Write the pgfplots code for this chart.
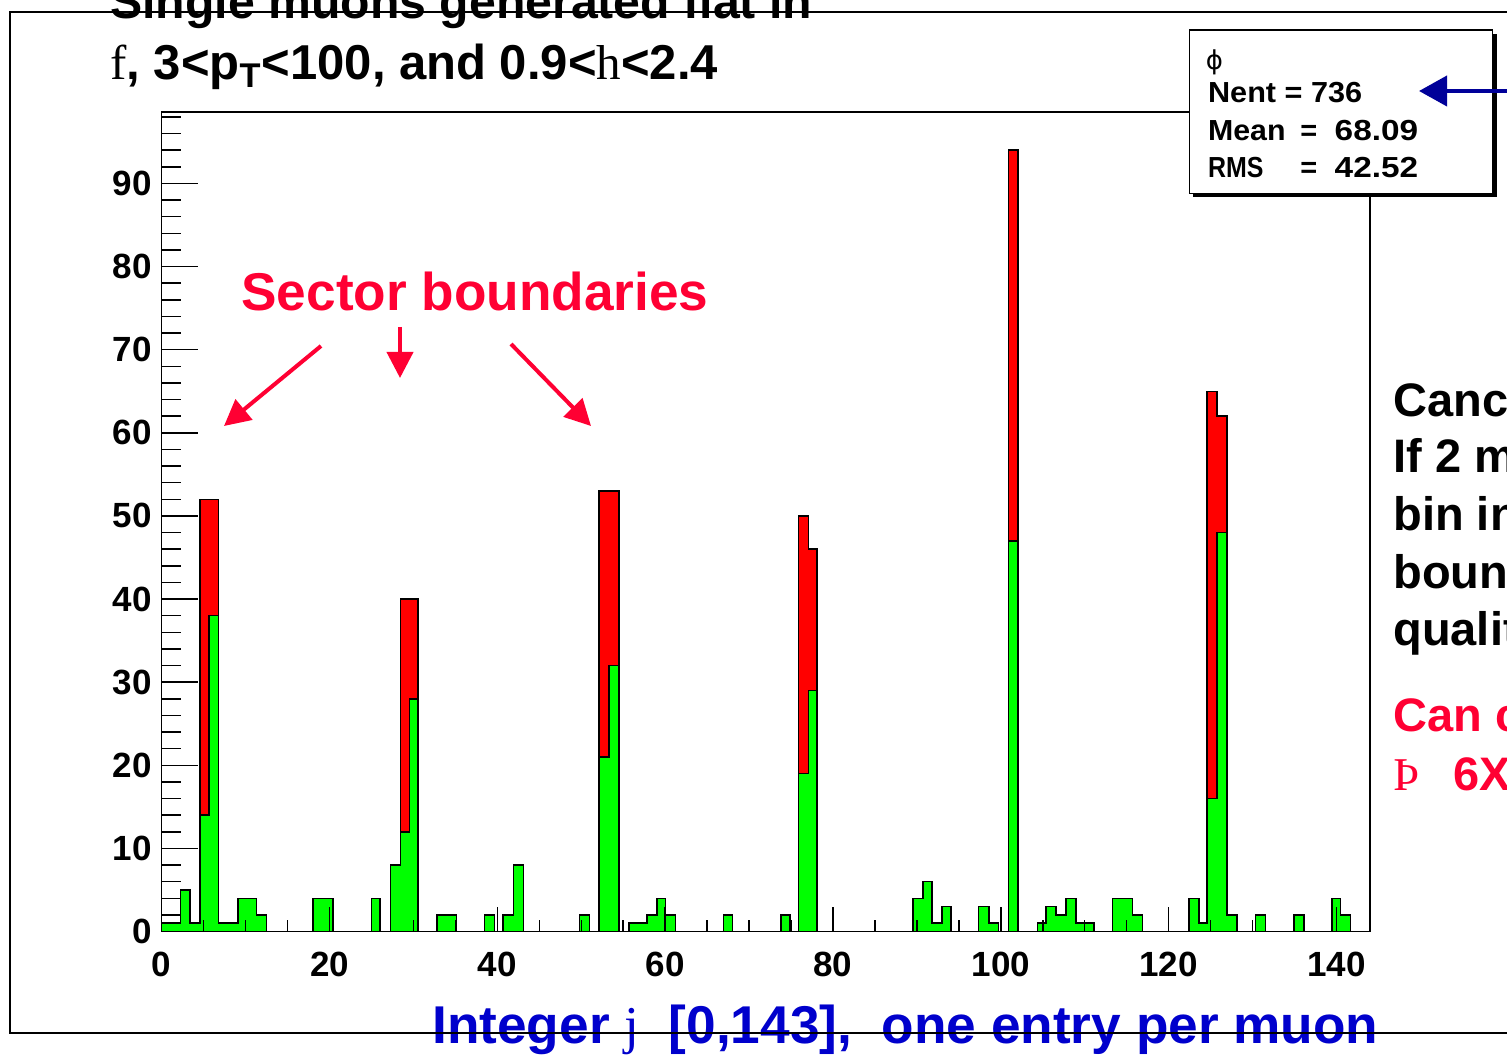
\documentclass[border=0pt]{standalone}
\usepackage{fontspec}
\setmainfont{Liberation Sans}
\newfontfamily\serif{Liberation Serif}
\newfontfamily\dejavu{DejaVu Sans}
\usepackage{pgfplots}
\pgfplotsset{compat=1.18}
\usetikzlibrary{arrows.meta}
\definecolor{hgreen}{RGB}{0,255,0}
\definecolor{hred}{RGB}{255,0,0}
\definecolor{txtred}{RGB}{255,0,51}
\definecolor{txtblue}{RGB}{0,0,204}
\definecolor{arrblue}{RGB}{0,0,153}
\begin{document}
\begin{tikzpicture}[x=0.5pt,y=0.5pt]
\useasboundingbox (0,0) rectangle (1507,1056);
\clip (0,0) rectangle (1507,1056);
\begin{axis}[
  at={(80.85pt,62.25pt)}, anchor=south west, scale only axis,
  width=604.15pt, height=409.75pt,
  xmin=0, xmax=144, ymin=0, ymax=98.6,
  axis on top,
  axis line style={line width=0.75pt},
  xtick={0,20,...,140}, minor xtick={0,5,...,140},
  ytick={0,10,...,90}, minor ytick={0,2,...,98},
  tick pos=left, tick align=inside,
  tick style={line width=0.75pt, black},
  x tick style={/pgfplots/major tick length=12.5pt, /pgfplots/minor tick length=6pt},
  y tick style={/pgfplots/major tick length=18pt, /pgfplots/minor tick length=9.5pt},
  /pgf/number format/assume math mode=true,
  ticklabel style={font=\fontsize{17.5}{17.5}\selectfont\bfseries},
  yticklabel style={inner sep=0pt, xshift=-4.85pt},
  xticklabel style={inner sep=0pt, yshift=-10.25pt},
]
\addplot[const plot, fill=hred, draw=black, line width=0.75pt] coordinates {
(0,0) (4.56,52) (6.74,0) (28.45,40) (30.55,0) (52.10,53) (54.48,0)
(75.90,50) (77.10,46) (78.10,0) (100.90,94) (102.02,0)
(124.60,65) (125.79,62) (126.98,0) (144,0)} \closedcycle;
\addplot[const plot, fill=hgreen, draw=black, line width=0.75pt] coordinates {
(0,1) (2.26,5) (3.37,1) (4.56,14) (5.63,38) (6.74,1) (9.12,4) (11.31,2) (12.5,0)
(18.05,4) (20.43,0) (25.0,4) (25.99,0) (27.26,8) (28.45,12) (29.56,28) (30.55,0)
(32.81,2) (35.12,0) (38.49,2) (39.68,0) (40.67,2) (41.94,8) (43.13,0)
(49.80,2) (50.99,0) (52.10,21) (53.29,32) (54.48,0) (55.67,1) (57.81,2) (59.0,4)
(60.04,2) (61.23,0) (66.94,2) (68.01,0) (73.81,2) (74.88,0) (75.90,19) (77.10,29)
(78.10,0) (89.56,4) (90.75,6) (91.79,1) (92.98,3) (94.05,0) (97.33,3) (98.61,1)
(99.71,0) (100.90,47) (102.02,0) (104.36,1) (105.36,3) (106.55,2) (107.74,4)
(108.93,1) (111.11,0) (113.29,4) (115.67,2) (116.86,0) (122.42,4) (123.61,1)
(124.60,16) (125.79,48) (126.98,2) (128.17,0) (130.36,2) (131.55,0) (134.92,2)
(136.11,0) (139.48,4) (140.48,2) (141.67,0) (144,0)} \closedcycle;
\end{axis}
% titles
\begin{scope}[every node/.style={inner sep=0pt, anchor=base west}]
\node[font=\fontsize{24.1}{24.1}\selectfont\bfseries] at (110,1037) {Single muons generated flat in};
\node[font=\fontsize{24.5}{24.5}\selectfont\bfseries] at (110,976) {{\serif\mdseries f}, 3<p\textsubscript{T}<100, and 0.9<{\serif\mdseries h}<2.4};
\node[font=\fontsize{26.6}{26.6}\selectfont\bfseries, text=txtred] at (241,745) {Sector boundaries};
% right text
\node[font=\fontsize{23.5}{23.5}\selectfont\bfseries] at (1393,639.3) {Cancel};
\node[font=\fontsize{23.5}{23.5}\selectfont\bfseries] at (1393,584) {If 2 muons};
\node[font=\fontsize{23.5}{23.5}\selectfont\bfseries] at (1393,526) {bin in};
\node[font=\fontsize{23.5}{23.5}\selectfont\bfseries] at (1393,468) {boundary};
\node[font=\fontsize{23.5}{23.5}\selectfont\bfseries] at (1393,411) {quality};
\node[font=\fontsize{23.5}{23.5}\selectfont\bfseries, text=txtred] at (1393,325) {Can co};
\node[font=\fontsize{23.5}{23.5}\selectfont\serif, text=txtred] at (1393,266) {Þ};
\node[font=\fontsize{23.5}{23.5}\selectfont\bfseries, text=txtred] at (1453,266) {6X};
% bottom blue
\node[font=\fontsize{26.6}{26.6}\selectfont\bfseries, text=txtblue] at (432,13) {Integer~{\serif\mdseries j}~~[0,143],~~one entry per muon};
\end{scope}
% arrows
\draw[txtred, line width=2pt, -{Triangle[length=13pt,width=13pt]}] (321,710) -- (224,630);
\draw[txtred, line width=2pt, -{Triangle[length=13pt,width=13pt]}] (400,729) -- (400,678);
\draw[txtred, line width=2pt, -{Triangle[length=13pt,width=13pt]}] (511,712) -- (591,630);
% stats box
\fill[black] (1193.3,858.7) rectangle (1496.7,1022);
\draw[fill=white, line width=0.75pt] (1189.3,862.7) rectangle (1492.7,1026);
\begin{scope}[every node/.style={inner sep=0pt, anchor=base west, font=\fontsize{14.5}{14.5}\selectfont\bfseries}]
\node[font=\fontsize{13}{13}\selectfont\dejavu, anchor=center] at (1214.5,994) {ϕ};
\node at (1207.7,953.7) {\scalebox{1.056}[1]{Nent = 736}};
\node at (1207.7,915.3) {\scalebox{1.045}[1]{Mean}};
\node at (1300,915.3) {=};
\node at (1334.3,915.3) {\scalebox{1.15}[1]{68.09}};
\node at (1207.7,878.7) {\scalebox{0.86}[1]{RMS}};
\node at (1300,878.7) {=};
\node at (1334.3,878.7) {\scalebox{1.15}[1]{42.52}};
\end{scope}
\draw[arrblue, line width=2pt, -{Triangle[length=14pt,width=15pt]}] (1520,965) -- (1419,965);
% frame
\draw[line width=1pt] (1520,1044) -- (10,1044) -- (10,23) -- (1520,23);
\end{tikzpicture}
\end{document}
